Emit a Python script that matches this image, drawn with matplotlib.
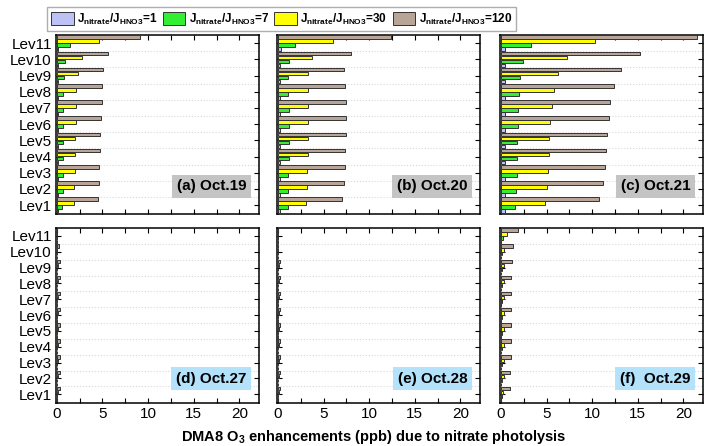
"""
DMA8 O3 enhancements due to nitrate photolysis, 6 panels
"""

import numpy as np
import matplotlib.pyplot as plt
from matplotlib.ticker import MultipleLocator
from matplotlib.patches import Patch

plt.rcParams['font.family'] = ['Liberation Sans', 'DejaVu Sans']
plt.rcParams['mathtext.fontset'] = 'custom'
plt.rcParams['mathtext.rm'] = 'Liberation Sans:bold'
plt.rcParams['mathtext.bf'] = 'Liberation Sans:bold'
plt.rcParams['mathtext.it'] = 'Liberation Sans:bold'

levels = ['Lev1', 'Lev2', 'Lev3', 'Lev4', 'Lev5', 'Lev6',
          'Lev7', 'Lev8', 'Lev9', 'Lev10', 'Lev11']
ratios = ['1', '7', '30', '120']
panel_titles = ['(a) Oct.19', '(b) Oct.20', '(c) Oct.21',
                '(d) Oct.27', '(e) Oct.28', '(f)  Oct.29']

# values Lev1 -> Lev11, per ratio 1 / 7 / 30 / 120
oct19_r1 = [0.15, 0.15, 0.15, 0.15, 0.15, 0.15, 0.15, 0.15, 0.15, 0.12, 0.15]
oct19_r7 = [0.6, 0.65, 0.65, 0.65, 0.65, 0.7, 0.7, 0.7, 0.77, 0.9, 1.4]
oct19_r30 = [1.85, 1.9, 1.95, 2.0, 2.0, 2.05, 2.1, 2.15, 2.3, 2.7, 4.6]
oct19_r120 = [4.47, 4.6, 4.65, 4.7, 4.7, 4.85, 4.9, 5.0, 5.1, 5.65, 9.1]

oct20_r1 = [0.28, 0.28, 0.28, 0.28, 0.28, 0.28, 0.28, 0.28, 0.25, 0.2, 0.35]
oct20_r7 = [1.06, 1.13, 1.13, 1.2, 1.2, 1.2, 1.2, 1.13, 1.13, 1.25, 1.9]
oct20_r30 = [3.08, 3.22, 3.22, 3.26, 3.33, 3.33, 3.33, 3.33, 3.33, 3.7, 6.0]
oct20_r120 = [7.0, 7.2, 7.35, 7.4, 7.5, 7.5, 7.45, 7.3, 7.25, 8.0, 12.4]

oct21_r1 = [0.45, 0.45, 0.45, 0.45, 0.45, 0.45, 0.45, 0.45, 0.45, 0.45, 0.5]
oct21_r7 = [1.6, 1.7, 1.76, 1.8, 1.8, 1.83, 1.9, 2.0, 2.1, 2.4, 3.26]
oct21_r30 = [4.87, 5.1, 5.16, 5.24, 5.3, 5.4, 5.57, 5.86, 6.3, 7.3, 10.3]
oct21_r120 = [10.7, 11.17, 11.4, 11.5, 11.6, 11.8, 12.0, 12.45, 13.2, 15.3, 21.5]

oct27_r1 = [0.01, 0.01, 0.01, 0.01, 0.01, 0.01, 0.01, 0.01, 0.01, 0.01, 0.0]
oct27_r7 = [0.03, 0.03, 0.03, 0.03, 0.03, 0.03, 0.03, 0.03, 0.03, 0.02, 0.0]
oct27_r30 = [0.1, 0.1, 0.1, 0.1, 0.1, 0.1, 0.1, 0.1, 0.1, 0.06, 0.01]
oct27_r120 = [0.3, 0.3, 0.3, 0.3, 0.3, 0.3, 0.3, 0.3, 0.3, 0.25, 0.02]

oct28_r1 = [0.01, 0.01, 0.01, 0.01, 0.01, 0.01, 0.01, 0.01, 0.01, 0.0, 0.0]
oct28_r7 = [0.03, 0.03, 0.03, 0.03, 0.03, 0.03, 0.03, 0.03, 0.03, 0.01, 0.01]
oct28_r30 = [0.08, 0.08, 0.08, 0.08, 0.08, 0.08, 0.08, 0.08, 0.07, 0.02, 0.02]
oct28_r120 = [0.25, 0.25, 0.25, 0.25, 0.25, 0.25, 0.25, 0.25, 0.2, 0.05, 0.05]

oct29_r1 = [0.02, 0.02, 0.02, 0.02, 0.02, 0.02, 0.02, 0.02, 0.02, 0.02, 0.04]
oct29_r7 = [0.08, 0.08, 0.08, 0.08, 0.08, 0.08, 0.08, 0.08, 0.09, 0.1, 0.18]
oct29_r30 = [0.28, 0.3, 0.32, 0.33, 0.33, 0.33, 0.33, 0.33, 0.35, 0.37, 0.66]
oct29_r120 = [0.95, 1.03, 1.1, 1.1, 1.1, 1.1, 1.1, 1.1, 1.17, 1.28, 1.9]

days = [
    [oct19_r1, oct19_r7, oct19_r30, oct19_r120],
    [oct20_r1, oct20_r7, oct20_r30, oct20_r120],
    [oct21_r1, oct21_r7, oct21_r30, oct21_r120],
    [oct27_r1, oct27_r7, oct27_r30, oct27_r120],
    [oct28_r1, oct28_r7, oct28_r30, oct28_r120],
    [oct29_r1, oct29_r7, oct29_r30, oct29_r120],
]

colors = ['#bcc2f5', '#33ee33', '#ffff00', '#b8a597']
offsets = [-0.37, -0.12, 0.12, 0.37]
bar_h = 0.22
box_colors = ['#c4c4c4'] * 3 + ['#b3e2fa'] * 3

fig = plt.figure(figsize=(7.04, 4.46), dpi=100)
lefts = [0.0795, 0.3935, 0.7102]
width = 0.289
rows = [(0.520, 0.4013), (0.0964, 0.3924)]

y = np.arange(1, len(levels) + 1)
for i, series in enumerate(days):
    row, col = divmod(i, 3)
    ax = fig.add_axes([lefts[col], rows[row][0], width, rows[row][1]])
    for k, vals in enumerate(series):
        ax.barh(y + offsets[k], vals, height=bar_h, color=colors[k],
                edgecolor='#333333', linewidth=0.7, zorder=3)
    ax.set_xlim(-0.1, 22.2)
    ax.set_ylim(0.45, 11.5)
    ax.set_yticks(y)
    if col == 0:
        ax.set_yticklabels(levels, fontsize=11)
    else:
        ax.set_yticklabels([])
    ax.xaxis.set_major_locator(MultipleLocator(5))
    ax.xaxis.set_minor_locator(MultipleLocator(2.5))
    if row == 1:
        ax.tick_params(axis='x', labelsize=11)
    else:
        ax.set_xticklabels([])
    ax.tick_params(which='both', direction='in', top=True, right=True,
                   length=3.5, width=0.8, pad=3)
    # dotted separators between levels
    for yy in np.arange(1.5, 11.5, 1.0):
        ax.axhline(yy, color='#d8d8d8', linestyle=':', linewidth=0.8, zorder=1)
    for s in ax.spines.values():
        s.set_linewidth(1.1)
    ax.text(0.935, 0.155 if row == 0 else 0.14, panel_titles[i], transform=ax.transAxes,
            ha='right', va='center', fontsize=11, fontweight='bold', zorder=5,
            bbox=dict(boxstyle='square,pad=0.3', facecolor=box_colors[i],
                      edgecolor='none'))

handles = [Patch(facecolor=c, edgecolor='#333333', linewidth=0.7) for c in colors]
labels = [r'$\mathbf{J_{nitrate}/J_{HNO3}}$=' + r for r in ratios]
fig.legend(handles, labels, loc='center', bbox_to_anchor=(0.40, 0.957), ncol=4,
           prop={'weight': 'bold', 'size': 8.5}, frameon=True,
           fancybox=False, edgecolor='#999999', handlelength=1.9, handleheight=1.3,
           columnspacing=0.45, handletextpad=0.3, borderpad=0.35, borderaxespad=0)

fig.text(0.531, 0.02, r'DMA8 O$_3$ enhancements (ppb) due to nitrate photolysis',
         ha='center', va='center', fontsize=10.5, fontweight='bold')

fig.savefig('out.png', dpi=100)
